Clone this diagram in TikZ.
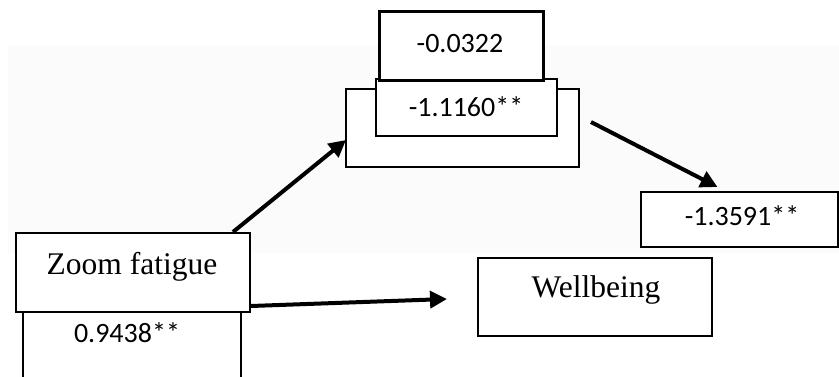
\documentclass[tikz,border=0pt]{standalone}
\usepackage{fontspec}
\setmainfont{Liberation Serif}
\newfontfamily\numfont{Carlito}
\usetikzlibrary{arrows.meta,calc}
\definecolor{bgpanel}{HTML}{FBFBFB}
\begin{document}
\begin{tikzpicture}[x=1pt,y=-1pt,
  boxst/.style={draw=black,line width=2pt,fill=white,rectangle,inner sep=0pt},
  numtxt/.style={inner sep=0pt,anchor=base,font=\numfont\fontsize{28}{30}\selectfont},
  vartxt/.style={inner sep=0pt,anchor=base,font=\fontsize{31.5}{34}\selectfont},
  arr/.style={line width=4pt,-{Triangle[length=17pt,width=17pt]}}]
\clip (0,0) rectangle (839,376);
\fill[white] (0,0) rectangle (839,376);
\fill[bgpanel] (8,45) rectangle (839,253);
% boxes
\node[boxst,minimum width=233pt,minimum height=78pt] (big) at (462.5,128) {};
\node[boxst,minimum width=181pt,minimum height=57pt] (mid) at (466.5,107.5) {};
\node[boxst,line width=3pt,minimum width=164pt,minimum height=69pt] (top) at (461,45.5) {};
\node[boxst,minimum width=234pt,minimum height=79pt] (zf) at (133,272.5) {};
\node[boxst,minimum width=218pt,minimum height=80pt] (zfc) at (132,352) {};
\node[boxst,minimum width=234pt,minimum height=78pt] (wb) at (595,297) {};
\node[boxst,minimum width=197pt,minimum height=55pt] (yc) at (739.5,219.5) {};
% texts
\node[numtxt] (ttop) at (460,52) {-0.0322};
\node[numtxt] (tmid) at (466,116) {-1.1160**};
\node[numtxt] (tyc) at (742,225) {-1.3591**};
\node[numtxt] (tzfc) at (127,342) {0.9438**};
\node[vartxt] (tzf) at (132,274) {Zoom fatigue};
\node[vartxt] (twb) at (596,297) {Wellbeing};
% arrows
\draw[arr] ($(zf.north east)+(-18,0)$) -- ($(big.west)+(1,12)$);
\draw[arr] ($(big.north east)+(11,34)$) -- ($(yc.north)+(-22,-4)$);
\draw[arr] ($(zf.east)+(0,33.5)$) -- ($(wb.west)+(-30,2)$);
\end{tikzpicture}
\end{document}
